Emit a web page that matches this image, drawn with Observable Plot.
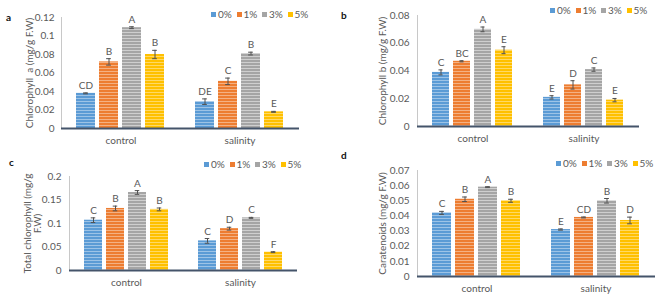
<!DOCTYPE html>
<html><head><meta charset="utf-8">
<script src="https://cdn.jsdelivr.net/npm/d3@7"></script>
<script src="https://cdn.jsdelivr.net/npm/@observablehq/plot@0.6"></script>
<style>
body{margin:0;background:#fff;font-family:Lato,"Open Sans",sans-serif;}
#root{position:relative;width:669px;height:298px;overflow:hidden;background:#fff}
.panel{position:absolute}
.letter{position:absolute;font-weight:bold;font-size:10px;color:#111;line-height:10px}
.legend{position:absolute;font-size:10px;color:#595959;line-height:10px;white-space:nowrap}
.legend .item{display:inline-block;width:25.5px}
.legend .sw{display:inline-block;width:5px;height:5px;margin-right:2px;vertical-align:1px}
</style></head>
<body>
<svg width="0" height="0" style="position:absolute"><defs id="pdefs"></defs></svg>
<div id="root"></div>
<script>
// ---- data ----
const groups = ["control", "salinity"];
const concentrations = ["0%", "1%", "3%", "5%"];
const seriesColors = ["#5B9BD5", "#ED7D31", "#A5A5A5", "#FFC000"];
const stripeColors = ["#9DC3E6", "#F4B183", "#CFCFCF", "#FFD966"];

const chlA = [0.038, 0.072, 0.109, 0.080, 0.029, 0.051, 0.081, 0.018];
const chlAErr = [0.0005, 0.0035, 0.001, 0.0045, 0.003, 0.0035, 0.0015, 0.0005];
const chlALetters = ["CD", "B", "A", "B", "DE", "C", "B", "E"];
const chlATicks = [0, 0.02, 0.04, 0.06, 0.08, 0.1, 0.12];

const chlB = [0.039, 0.047, 0.070, 0.055, 0.021, 0.030, 0.041, 0.019];
const chlBErr = [0.0018, 0.0004, 0.0017, 0.0025, 0.0012, 0.003, 0.0012, 0.0012];
const chlBLetters = ["C", "BC", "A", "E", "E", "D", "C", "E"];
const chlBTicks = [0, 0.02, 0.04, 0.06, 0.08];

const chlT = [0.107, 0.132, 0.166, 0.130, 0.063, 0.089, 0.112, 0.039];
const chlTErr = [0.005, 0.005, 0.004, 0.003, 0.005, 0.003, 0.001, 0.001];
const chlTLetters = ["C", "B", "A", "B", "C", "D", "C", "F"];
const chlTTicks = [0, 0.05, 0.1, 0.15, 0.2];

const car = [0.042, 0.051, 0.059, 0.050, 0.031, 0.039, 0.050, 0.037];
const carErr = [0.001, 0.0015, 0.0003, 0.001, 0.0004, 0.0003, 0.0015, 0.0022];
const carLetters = ["C", "B", "A", "B", "E", "CD", "B", "D"];
const carTicks = [0, 0.01, 0.02, 0.03, 0.04, 0.05, 0.06, 0.07];

// ---- stripe patterns ----
const defs = document.getElementById("pdefs");
const NS = "http://www.w3.org/2000/svg";
const patternUrls = seriesColors.map((c, i) => {
  const p = document.createElementNS(NS, "pattern");
  p.setAttribute("id", "stripe" + i);
  p.setAttribute("width", 4); p.setAttribute("height", 3);
  p.setAttribute("patternUnits", "userSpaceOnUse");
  const r1 = document.createElementNS(NS, "rect");
  r1.setAttribute("width", 4); r1.setAttribute("height", 3); r1.setAttribute("fill", c);
  const r2 = document.createElementNS(NS, "rect");
  r2.setAttribute("y", 2); r2.setAttribute("width", 4); r2.setAttribute("height", 1); r2.setAttribute("fill", stripeColors[i]);
  p.appendChild(r1); p.appendChild(r2); defs.appendChild(p);
  return `url(#stripe${i})`;
});

function rowsOf(values, errs, letters) {
  return values.map((v, i) => ({
    g: groups[Math.floor(i / 4)], c: concentrations[i % 4], v, e: errs[i], t: letters[i]
  }));
}

const fmt = d => String(+d.toFixed(4));
const root = document.getElementById("root");

function panel(cfg) {
  const {left, top, width, height, ml, mr, mt, mb, ymax, ticks, label, labelOffset, rows, letter, letterPos, legendPos, tickPadding, fxPadding} = cfg;
  const pi = 0.17, po = 0.655;
  const B = (width - ml - mr) / 2;
  const bw = B / (4 - pi + 2 * po) * (1 - pi);
  const inset = Math.max(0, (bw - 5) / 2);
  const chart = Plot.plot({
    width, height, marginLeft: ml, marginRight: mr, marginTop: mt, marginBottom: mb,
    style: {fontFamily: "Lato, 'Open Sans', sans-serif", fontSize: "10px", color: "#595959", background: "transparent", overflow: "visible"},
    fx: {domain: groups, padding: 0, label: null, tickSize: 0, tickPadding: fxPadding, axis: "bottom"},
    x: {domain: concentrations, paddingInner: pi, paddingOuter: po, axis: null},
    y: {domain: [0, ymax], ticks, tickFormat: fmt, tickSize: 0, tickPadding, label, labelAnchor: "center", labelArrow: "none", labelOffset},
    color: {domain: concentrations, range: patternUrls},
    marks: [
      Plot.frame({anchor: "left", stroke: "#c8c8c8", facetAnchor: "left"}),
      Plot.barY(rows, {fx: "g", x: "c", y: "v", fill: "c"}),
      Plot.ruleX(rows, {fx: "g", x: "c", y1: d => d.v - d.e, y2: d => d.v + d.e, stroke: "#505050", strokeWidth: 1}),
      Plot.tickY(rows, {fx: "g", x: "c", y: d => d.v - d.e, insetLeft: inset, insetRight: inset, stroke: "#505050"}),
      Plot.tickY(rows, {fx: "g", x: "c", y: d => d.v + d.e, insetLeft: inset, insetRight: inset, stroke: "#505050"}),
      Plot.text(rows, {fx: "g", x: "c", y: d => d.v + d.e, text: "t", dy: -4, lineAnchor: "bottom", fill: "#595959", fontSize: 10}),
      Plot.ruleY([0], {stroke: "#44546a", strokeWidth: 2})
    ]
  });
  const wrap = document.createElement("div");
  wrap.className = "panel";
  wrap.style.left = left + "px"; wrap.style.top = top + "px";
  wrap.appendChild(chart);
  root.appendChild(wrap);
  const L = document.createElement("div");
  L.className = "letter"; L.textContent = letter;
  L.style.left = letterPos[0] + "px"; L.style.top = letterPos[1] + "px";
  root.appendChild(L);
  const lg = document.createElement("div");
  lg.className = "legend";
  lg.style.left = legendPos[0] + "px"; lg.style.top = legendPos[1] + "px";
  concentrations.forEach((c, i) => {
    const it = document.createElement("span"); it.className = "item";
    const sw = document.createElement("span"); sw.className = "sw"; sw.style.background = seriesColors[i];
    it.appendChild(sw); it.appendChild(document.createTextNode(c));
    lg.appendChild(it);
  });
  root.appendChild(lg);
}

panel({left: 0, top: 0, width: 335, height: 150, ml: 60, mr: 36, mt: 17, mb: 22, ymax: 0.12, ticks: chlATicks,
  label: "Chlorophyll  a (mg/g F.W)", labelOffset: 36, rows: rowsOf(chlA, chlAErr, chlALetters),
  letter: "a", letterPos: [6, 12], legendPos: [211, 9], tickPadding: 7, fxPadding: 8});
panel({left: 335, top: 0, width: 334, height: 150, ml: 82, mr: 30, mt: 15, mb: 24, ymax: 0.08, ticks: chlBTicks,
  label: "Chlorophyll b (mg/g F.W)", labelOffset: 39, rows: rowsOf(chlB, chlBErr, chlBLetters),
  letter: "b", letterPos: [341, 10], legendPos: [550, 5], tickPadding: 8, fxPadding: 8});
panel({left: 0, top: 150, width: 335, height: 148, ml: 68, mr: 38, mt: 26, mb: 28, ymax: 0.2, ticks: chlTTicks,
  label: "Total chlorophyll (mg/g\nF.W)", labelOffset: 46, rows: rowsOf(chlT, chlTErr, chlTLetters),
  letter: "c", letterPos: [9, 157], legendPos: [204, 159], tickPadding: 8, fxPadding: 8});
panel({left: 335, top: 150, width: 334, height: 148, ml: 82, mr: 14, mt: 20, mb: 22, ymax: 0.07, ticks: carTicks,
  label: "Caratenoids (mg/g F.W)", labelOffset: 39, rows: rowsOf(car, carErr, carLetters),
  letter: "d", letterPos: [341, 150], legendPos: [556, 158], tickPadding: 8, fxPadding: 8});
</script>
</body></html>
